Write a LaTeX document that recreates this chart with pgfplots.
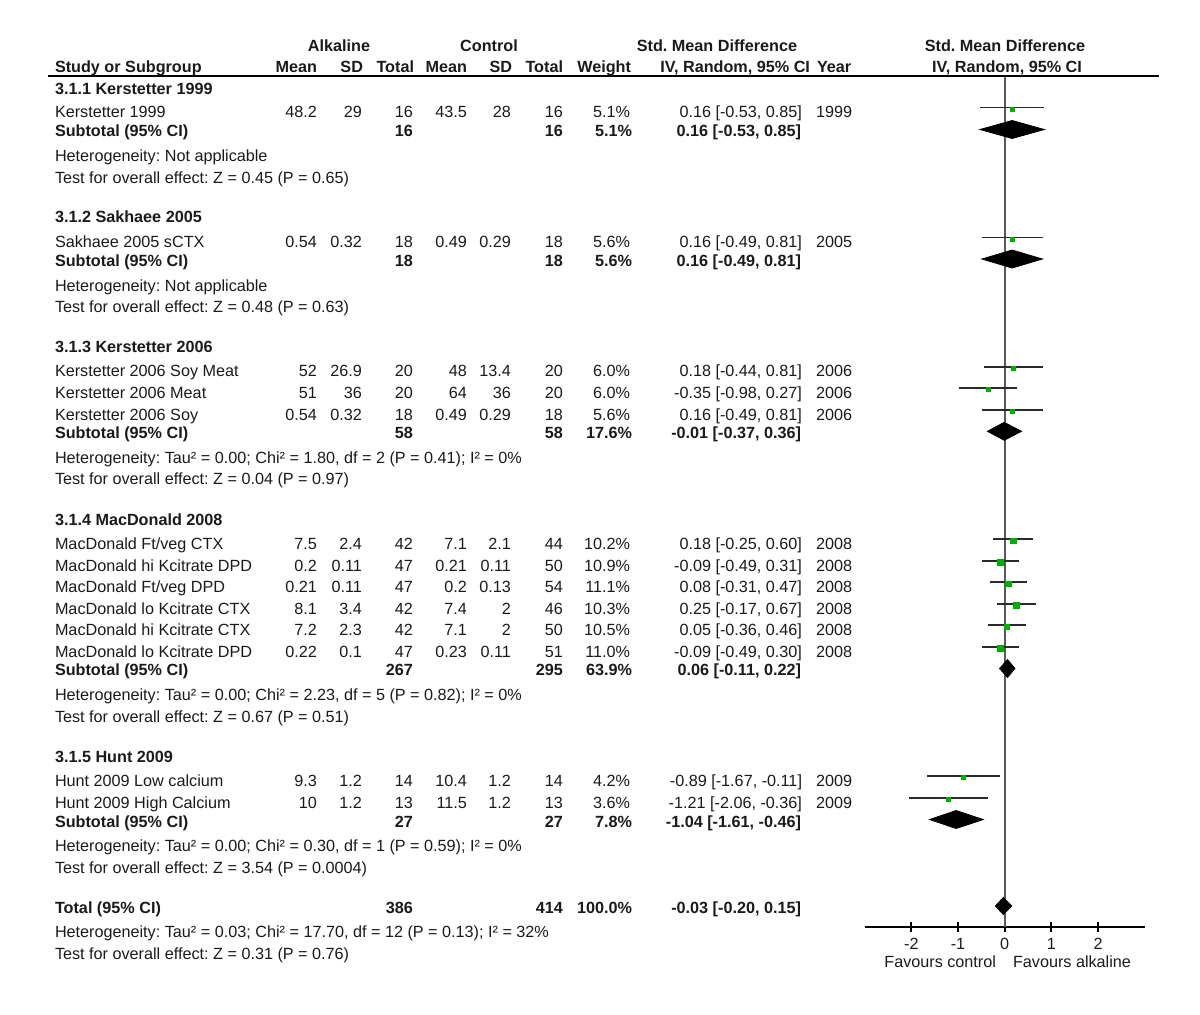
\documentclass[border=0pt]{standalone}
\usepackage{pgfplots}
\pgfplotsset{compat=1.18}
\usepackage{fontspec}
\setmainfont{Liberation Sans}
\frenchspacing
\definecolor{txt}{HTML}{1A1A1A}
\definecolor{mk}{HTML}{00B000}
\definecolor{ciline}{HTML}{2A2A2A}
\definecolor{zline}{HTML}{595959}
\newcommand\fs{\fontsize{8.1pt}{9.7pt}\selectfont\frenchspacing}
\tikzset{T/.style={inner sep=0pt,outer sep=0pt,font=\fs,text=txt}}
% study row: baseline, name, mean1, sd1, n1, mean2, sd2, n2, weight
\newcommand\study[9]{%
 \node[T,anchor=base west] at (55,#1) {#2};
 \node[T,anchor=base east] at (317,#1) {#3};
 \node[T,anchor=base east] at (362,#1) {#4};
 \node[T,anchor=base east] at (413,#1) {#5};
 \node[T,anchor=base east] at (467,#1) {#6};
 \node[T,anchor=base east] at (511,#1) {#7};
 \node[T,anchor=base east] at (563,#1) {#8};
 \node[T,anchor=base east] at (630,#1) {#9};}
\newcommand\cirow[3]{%
 \node[T,anchor=base east] at (802,#1) {#2};
 \node[T,anchor=base west] at (816,#1) {#3};}
\newcommand\subt[6]{%
 \node[T,anchor=base west,font=\fs\bfseries] at (55,#1) {#2};
 \node[T,anchor=base east,font=\fs\bfseries] at (413,#1) {#3};
 \node[T,anchor=base east,font=\fs\bfseries] at (563,#1) {#4};
 \node[T,anchor=base east,font=\fs\bfseries] at (632,#1) {#5};
 \node[T,anchor=base east,font=\fs\bfseries] at (801,#1) {#6};}
\newcommand\note[2]{\node[T,anchor=base west] at (55,#1) {#2};}
\newcommand\grp[2]{\node[T,anchor=base west,font=\fs\bfseries] at (55,#1) {#2};}
\begin{document}
\begin{tikzpicture}
\begin{scope}[x=0.5pt,y=-0.5pt]
\useasboundingbox (0,0) rectangle (1200,1014);
\end{scope}
\begin{axis}[
 at={(432.35pt,-37.5pt)}, anchor=north west,
 scale only axis, width=140pt, height=426pt,
 xmin=-3, xmax=3, ymin=-927, ymax=-75,
 axis x line*=bottom, axis y line=none,
 xtick={-2,-1,0,1,2}, xticklabels={-2,-1,0,1,2},
 tick align=center, major tick length=5pt,
 every tick/.append style={black, line width=0.9pt},
 axis line style={black, line width=0.9pt},
 xticklabel style={font=\fs, text=txt, inner sep=0pt, yshift=-3pt},
 clip=false,
]
% zero line
\addplot[zline, line width=1pt] coordinates {(0,-75) (0,-927)};
% confidence intervals
\addplot[ciline, line width=0.9pt] coordinates {(-0.53,-107.5) (0.85,-107.5)};
\addplot[ciline, line width=0.9pt] coordinates {(-0.49,-237.5) (0.81,-237.5)};
\addplot[ciline, line width=0.9pt] coordinates {(-0.44,-366.7) (0.81,-366.7)};
\addplot[ciline, line width=0.9pt] coordinates {(-0.98,-388.3) (0.27,-388.3)};
\addplot[ciline, line width=0.9pt] coordinates {(-0.49,-410) (0.81,-410)};
\addplot[ciline, line width=0.9pt] coordinates {(-0.25,-539.3) (0.60,-539.3)};
\addplot[ciline, line width=0.9pt] coordinates {(-0.49,-560.7) (0.31,-560.7)};
\addplot[ciline, line width=0.9pt] coordinates {(-0.31,-582.3) (0.47,-582.3)};
\addplot[ciline, line width=0.9pt] coordinates {(-0.17,-604) (0.67,-604)};
\addplot[ciline, line width=0.9pt] coordinates {(-0.36,-625.3) (0.46,-625.3)};
\addplot[ciline, line width=0.9pt] coordinates {(-0.49,-647) (0.30,-647)};
\addplot[ciline, line width=0.9pt] coordinates {(-1.67,-776) (-0.11,-776)};
\addplot[ciline, line width=0.9pt] coordinates {(-2.06,-797.7) (-0.36,-797.7)};
% point estimates (small weights)
\addplot[only marks, mark=square*, mark size=1pt, mk, mark options={draw=mk,fill=mk}] coordinates {
 (0.16,-109) (0.16,-239) (0.18,-368.2) (-0.35,-389.8) (0.16,-411.5) (-0.89,-777.5) (-1.21,-799.2)};
% point estimates (larger weights)
\addplot[only marks, mark=square*, mark size=1.4pt, mk, mark options={draw=mk,fill=mk}] coordinates {
 (0.18,-540.8) (-0.09,-562.2) (0.08,-583.8) (0.25,-605.5) (0.05,-626.8) (-0.09,-648.5)};
% pooled diamonds
\addplot[fill=black, draw=black] coordinates {(-0.53,-129.5) (0.16,-120.5) (0.85,-129.5) (0.16,-138.5)} --cycle;
\addplot[fill=black, draw=black] coordinates {(-0.49,-259) (0.16,-250) (0.81,-259) (0.16,-268)} --cycle;
\addplot[fill=black, draw=black] coordinates {(-0.37,-431.3) (-0.01,-422.3) (0.36,-431.3) (-0.01,-440.3)} --cycle;
\addplot[fill=black, draw=black] coordinates {(-0.11,-668.5) (0.06,-659.5) (0.22,-668.5) (0.06,-677.5)} --cycle;
\addplot[fill=black, draw=black] coordinates {(-1.61,-819.5) (-1.04,-810.5) (-0.46,-819.5) (-1.04,-828.5)} --cycle;
\addplot[fill=black, draw=black] coordinates {(-0.20,-906) (-0.03,-897.5) (0.15,-906) (-0.03,-914.5)} --cycle;
\end{axis}
\begin{scope}[x=0.5pt,y=-0.5pt]
% header
\draw[black, line width=1pt] (48,75.7) -- (1159,75.7);
\begin{scope}[every node/.style={T,font=\fs\bfseries}]
\node[anchor=base] at (339,51) {Alkaline};
\node[anchor=base] at (489,51) {Control};
\node[anchor=base] at (717,51) {Std. Mean Difference};
\node[anchor=base] at (1005,51) {Std. Mean Difference};
\node[anchor=base west] at (55,72) {Study or Subgroup};
\node[anchor=base east] at (317,72) {Mean};
\node[anchor=base east] at (363,72) {SD};
\node[anchor=base east] at (414,72) {Total};
\node[anchor=base east] at (467,72) {Mean};
\node[anchor=base east] at (512,72) {SD};
\node[anchor=base east] at (563,72) {Total};
\node[anchor=base east] at (631,72) {Weight};
\node[anchor=base east] at (810,72) {IV, Random, 95\% CI};
\node[anchor=base west] at (817,72) {Year};
\node[anchor=base] at (1007,72) {IV, Random, 95\% CI};
\end{scope}
% group 1
\grp{94}{3.1.1 Kerstetter 1999}
\study{117}{Kerstetter 1999}{48.2}{29}{16}{43.5}{28}{16}{5.1\%}
\cirow{117}{0.16 [-0.53, 0.85]}{1999}
\subt{136}{Subtotal (95\% CI)}{16}{16}{5.1\%}{0.16 [-0.53, 0.85]}
\note{161}{Heterogeneity: Not applicable}
\note{183}{Test for overall effect: Z = 0.45 (P = 0.65)}
% group 2
\grp{222}{3.1.2 Sakhaee 2005}
\study{247}{Sakhaee 2005 sCTX}{0.54}{0.32}{18}{0.49}{0.29}{18}{5.6\%}
\cirow{247}{0.16 [-0.49, 0.81]}{2005}
\subt{266}{Subtotal (95\% CI)}{18}{18}{5.6\%}{0.16 [-0.49, 0.81]}
\note{291}{Heterogeneity: Not applicable}
\note{312}{Test for overall effect: Z = 0.48 (P = 0.63)}
% group 3
\grp{352}{3.1.3 Kerstetter 2006}
\study{376}{Kerstetter 2006 Soy Meat}{52}{26.9}{20}{48}{13.4}{20}{6.0\%}
\cirow{376}{0.18 [-0.44, 0.81]}{2006}
\study{398}{Kerstetter 2006 Meat}{51}{36}{20}{64}{36}{20}{6.0\%}
\cirow{398}{-0.35 [-0.98, 0.27]}{2006}
\study{420}{Kerstetter 2006 Soy}{0.54}{0.32}{18}{0.49}{0.29}{18}{5.6\%}
\cirow{420}{0.16 [-0.49, 0.81]}{2006}
\subt{438}{Subtotal (95\% CI)}{58}{58}{17.6\%}{-0.01 [-0.37, 0.36]}
\note{463}{Heterogeneity: Tau² = 0.00; Chi² = 1.80, df = 2 (P = 0.41); I² = 0\%}
\note{484}{Test for overall effect: Z = 0.04 (P = 0.97)}
% group 4
\grp{525}{3.1.4 MacDonald 2008}
\study{549}{MacDonald Ft/veg CTX}{7.5}{2.4}{42}{7.1}{2.1}{44}{10.2\%}
\cirow{549}{0.18 [-0.25, 0.60]}{2008}
\study{571}{MacDonald hi Kcitrate DPD}{0.2}{0.11}{47}{0.21}{0.11}{50}{10.9\%}
\cirow{571}{-0.09 [-0.49, 0.31]}{2008}
\study{592}{MacDonald Ft/veg DPD}{0.21}{0.11}{47}{0.2}{0.13}{54}{11.1\%}
\cirow{592}{0.08 [-0.31, 0.47]}{2008}
\study{614}{MacDonald lo Kcitrate CTX}{8.1}{3.4}{42}{7.4}{2}{46}{10.3\%}
\cirow{614}{0.25 [-0.17, 0.67]}{2008}
\study{635}{MacDonald hi Kcitrate CTX}{7.2}{2.3}{42}{7.1}{2}{50}{10.5\%}
\cirow{635}{0.05 [-0.36, 0.46]}{2008}
\study{657}{MacDonald lo Kcitrate DPD}{0.22}{0.1}{47}{0.23}{0.11}{51}{11.0\%}
\cirow{657}{-0.09 [-0.49, 0.30]}{2008}
\subt{675}{Subtotal (95\% CI)}{267}{295}{63.9\%}{0.06 [-0.11, 0.22]}
\note{700}{Heterogeneity: Tau² = 0.00; Chi² = 2.23, df = 5 (P = 0.82); I² = 0\%}
\note{722}{Test for overall effect: Z = 0.67 (P = 0.51)}
% group 5
\grp{762}{3.1.5 Hunt 2009}
\study{786}{Hunt 2009 Low calcium}{9.3}{1.2}{14}{10.4}{1.2}{14}{4.2\%}
\cirow{786}{-0.89 [-1.67, -0.11]}{2009}
\study{808}{Hunt 2009 High Calcium}{10}{1.2}{13}{11.5}{1.2}{13}{3.6\%}
\cirow{808}{-1.21 [-2.06, -0.36]}{2009}
\subt{827}{Subtotal (95\% CI)}{27}{27}{7.8\%}{-1.04 [-1.61, -0.46]}
\note{851}{Heterogeneity: Tau² = 0.00; Chi² = 0.30, df = 1 (P = 0.59); I² = 0\%}
\note{873}{Test for overall effect: Z = 3.54 (P = 0.0004)}
% total
\subt{913}{Total (95\% CI)}{386}{414}{100.0\%}{-0.03 [-0.20, 0.15]}
\note{937}{Heterogeneity: Tau² = 0.03; Chi² = 17.70, df = 12 (P = 0.13); I² = 32\%}
\note{959}{Test for overall effect: Z = 0.31 (P = 0.76)}
% favours
\node[T,anchor=base east] at (996,967) {Favours control};
\node[T,anchor=base west] at (1013,967) {Favours alkaline};
\end{scope}
\end{tikzpicture}
\end{document}
